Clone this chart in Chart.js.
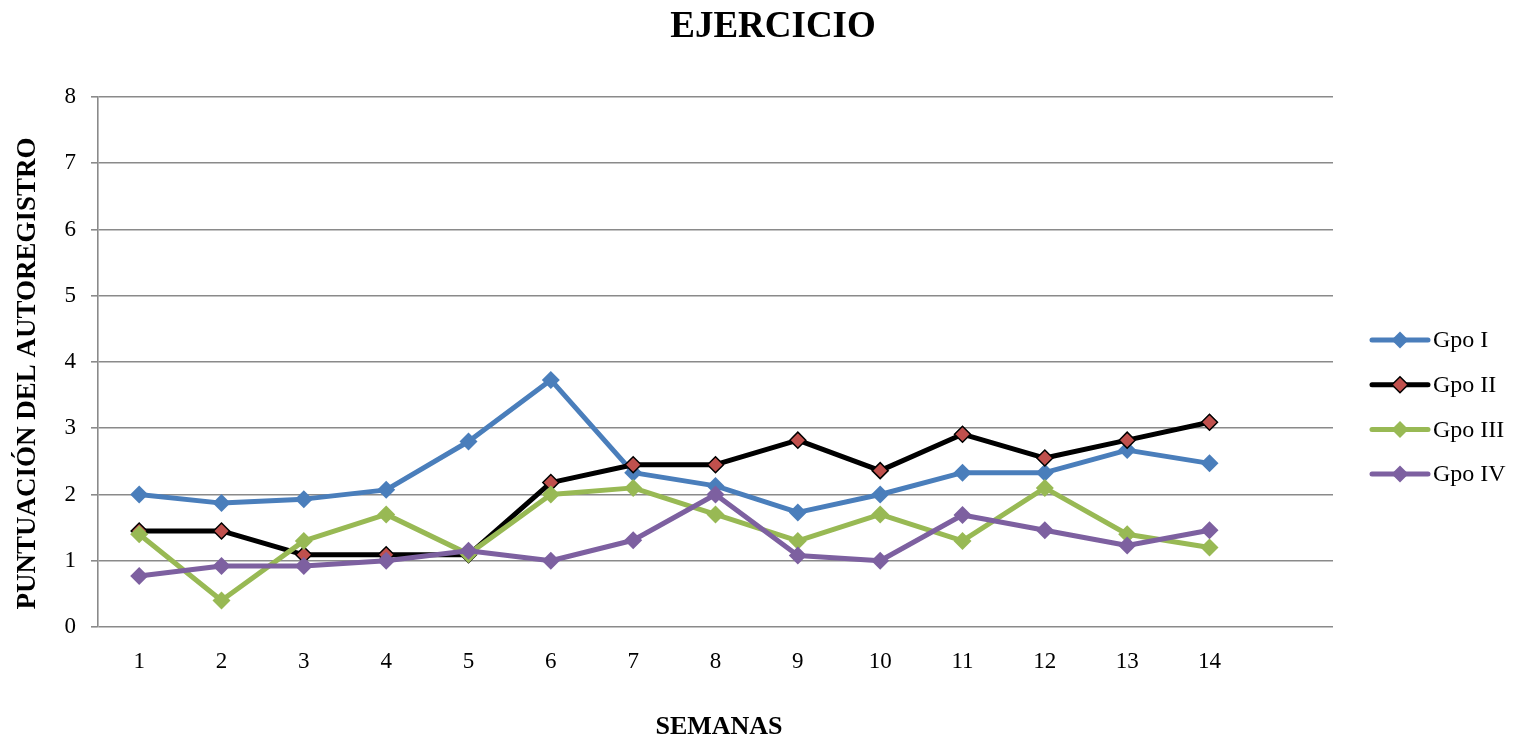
<!DOCTYPE html>
<html>
<head>
<meta charset="utf-8">
<title>EJERCICIO</title>
<script src="https://cdn.jsdelivr.net/npm/chart.js@4.4.1/dist/chart.umd.min.js"></script>
<style>
  html, body { margin: 0; padding: 0; background: #ffffff; }
  #wrap { width: 1517px; height: 741px; position: relative; }
</style>
</head>
<body>
<div id="wrap"><canvas id="chart" width="1517" height="741"></canvas></div>
<script>
// Weeks (one trailing empty slot leaves room on the right of the axis)
const semanas = ['1','2','3','4','5','6','7','8','9','10','11','12','13','14',''];

// Self-report scores per group
const gpoI   = [2.00, 1.87, 1.93, 2.07, 2.80, 3.73, 2.33, 2.13, 1.73, 2.00, 2.33, 2.33, 2.67, 2.47];
const gpoII  = [1.45, 1.45, 1.09, 1.09, 1.09, 2.18, 2.45, 2.45, 2.82, 2.36, 2.91, 2.55, 2.82, 3.09];
const gpoIII = [1.40, 0.40, 1.30, 1.70, 1.10, 2.00, 2.10, 1.70, 1.30, 1.70, 1.30, 2.10, 1.40, 1.20];
const gpoIV  = [0.77, 0.92, 0.92, 1.00, 1.15, 1.00, 1.31, 2.00, 1.08, 1.00, 1.69, 1.46, 1.23, 1.46];

const seriesNames = ['Gpo I', 'Gpo II', 'Gpo III', 'Gpo IV'];
const yTicks = [0, 1, 2, 3, 4, 5, 6, 7, 8];

const SERIF = '"Liberation Serif", "Times New Roman", serif';

function series(label, data, line, fill, border, radius, order) {
  return {
    label, data, order,
    borderColor: line,
    borderWidth: 5,
    borderJoinStyle: 'round',
    borderCapStyle: 'round',
    tension: 0,
    fill: false,
    pointStyle: 'rectRot',
    pointRadius: radius,
    pointHoverRadius: radius,
    pointBackgroundColor: fill,
    pointBorderColor: border.color,
    pointBorderWidth: border.width
  };
}

const datasets = [
  series(seriesNames[0], gpoI,   '#4A7EBB', '#4A7EBB', {color: '#4A7EBB', width: 0}, 9, 4),
  series(seriesNames[1], gpoII,  '#000000', '#C0504D', {color: '#000000', width: 1.5}, 8, 3),
  series(seriesNames[2], gpoIII, '#98B954', '#98B954', {color: '#98B954', width: 0}, 9, 2),
  series(seriesNames[3], gpoIV,  '#7D60A0', '#7D60A0', {color: '#7D60A0', width: 0}, 9, 1)
];

// Heading and the two axis captions
const captions = {
  id: 'captions',
  afterDraw(chart) {
    const ctx = chart.ctx;
    ctx.save();
    ctx.fillStyle = '#000';
    ctx.textAlign = 'center';
    ctx.textBaseline = 'middle';

    ctx.font = 'bold 37px ' + SERIF;
    ctx.fillText('EJERCICIO', 773, 27);

    ctx.font = 'bold 26px ' + SERIF;
    ctx.fillText('SEMANAS', 719, 727);

    ctx.translate(28, 373.5);
    ctx.rotate(-Math.PI / 2);
    ctx.font = 'bold 27px ' + SERIF;
    ctx.fillText('PUNTUACIÓN DEL AUTOREGISTRO', 0, 0);
    ctx.restore();
  }
};

// Legend on the right: a line sample with the series marker, then the name
const sideLegend = {
  id: 'sideLegend',
  afterDraw(chart) {
    const ctx = chart.ctx;
    const x0 = chart.chartArea.right + 39;
    const x1 = x0 + 56;
    const yStart = 340, gap = 44.7;
    chart.data.datasets.forEach((ds, i) => {
      const y = yStart + i * gap;
      ctx.save();
      ctx.strokeStyle = ds.borderColor;
      ctx.lineWidth = 5;
      ctx.lineCap = 'round';
      ctx.beginPath();
      ctx.moveTo(x0, y);
      ctx.lineTo(x1, y);
      ctx.stroke();
      const cx = (x0 + x1) / 2;
      const r = ds.pointBorderWidth > 0 ? 8 : 8.5;
      ctx.beginPath();
      ctx.moveTo(cx, y - r);
      ctx.lineTo(cx + r, y);
      ctx.lineTo(cx, y + r);
      ctx.lineTo(cx - r, y);
      ctx.closePath();
      ctx.fillStyle = ds.pointBackgroundColor;
      ctx.fill();
      if (ds.pointBorderWidth > 0) {
        ctx.strokeStyle = ds.pointBorderColor;
        ctx.lineWidth = ds.pointBorderWidth;
        ctx.lineJoin = 'miter';
        ctx.stroke();
      }
      ctx.font = '24px ' + SERIF;
      ctx.fillStyle = '#000';
      ctx.textAlign = 'left';
      ctx.textBaseline = 'middle';
      ctx.fillText(ds.label, x1 + 5, y + 1);
      ctx.restore();
    });
  }
};

new Chart(document.getElementById('chart'), {
  type: 'line',
  data: { labels: semanas, datasets },
  plugins: [captions, sideLegend],
  options: {
    responsive: false,
    animation: false,
    layout: { padding: { top: 97, right: 184, bottom: 0, left: 0 } },
    plugins: {
      legend: { display: false },
      title: { display: false },
      tooltip: { enabled: false }
    },
    scales: {
      x: {
        type: 'category',
        offset: true,
        afterFit(scale) { scale.height = 114; },
        grid: { display: false, drawTicks: false },
        border: { display: false },
        ticks: {
          color: '#000',
          font: { family: SERIF, size: 23 },
          padding: 21,
          maxRotation: 0,
          autoSkip: false
        }
      },
      y: {
        min: 0,
        max: 8,
        afterFit(scale) { scale.width = 98; },
        afterBuildTicks(scale) { scale.ticks = yTicks.map(v => ({ value: v })); },
        grid: {
          color: '#8A8A8A',
          lineWidth: 1.6,
          tickLength: 7,
          drawTicks: true
        },
        border: { display: true, color: '#8A8A8A', width: 1.6 },
        ticks: {
          color: '#000',
          font: { family: SERIF, size: 23 },
          padding: 15
        }
      }
    }
  }
});
</script>
</body>
</html>
